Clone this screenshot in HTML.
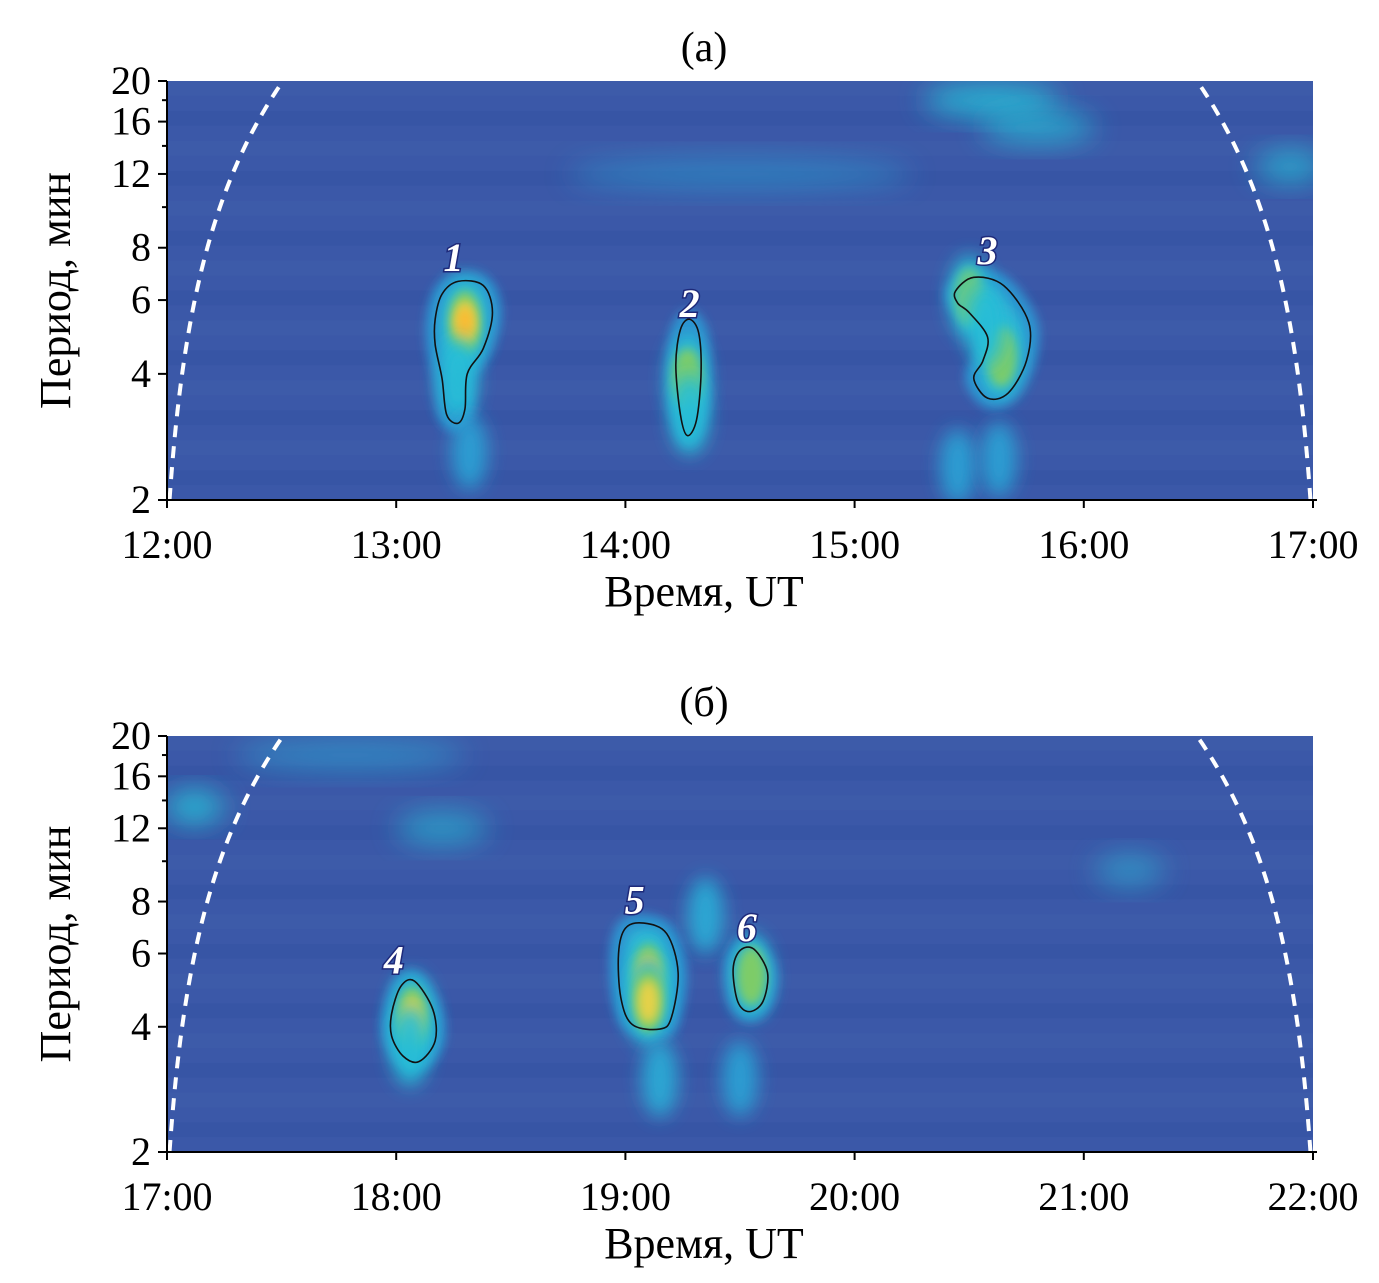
<!DOCTYPE html>
<html><head><meta charset="utf-8"><style>
body{margin:0;background:#fff;}
svg{display:block;font-family:"Liberation Serif",serif;}
</style></head><body>
<svg id="chart" width="1379" height="1283">
<defs>
<filter id="b1" x="-100%" y="-100%" width="300%" height="300%"><feGaussianBlur stdDeviation="9"/></filter>
<filter id="b2" x="-100%" y="-100%" width="300%" height="300%"><feGaussianBlur stdDeviation="5"/></filter>
<filter id="b3" x="-50%" y="-50%" width="200%" height="200%"><feGaussianBlur stdDeviation="14"/></filter>
<clipPath id="clipA"><rect x="167" y="81" width="1146" height="419"/></clipPath>
<clipPath id="clipB"><rect x="167" y="736" width="1146" height="416"/></clipPath>
</defs>
</svg>
<script>
// ---- data ----
const panelTitles = ["(а)", "(б)"];
const startHours = [12, 17];
const xTickLabelsA = ["12:00","13:00","14:00","15:00","16:00","17:00"];
const xTickLabelsB = ["17:00","18:00","19:00","20:00","21:00","22:00"];
const yTicks = [2,4,6,8,12,16,20];
const yMinor = [10,14,18];
// blobs: time (h), period (min), level 0..1
const blobTimesA = [13.3, 13.27, 14.27, 14.28, 15.64, 15.5, 15.57, 13.32, 15.45, 15.63];
const blobPeriodsA = [5.3, 3.9, 3.9, 3.2, 4.4, 6.1, 5.2, 2.6, 2.4, 2.5];
const blobLevelsA = [1.0, 0.6, 0.8, 0.6, 0.82, 0.7, 0.6, 0.4, 0.4, 0.4];
const blobTimesB = [18.07, 18.06, 19.1, 19.1, 19.55, 19.15, 19.35, 19.5];
const blobPeriodsB = [4.2, 3.6, 5.3, 4.6, 5.3, 3.0, 7.4, 3.0];
const blobLevelsB = [0.9, 0.6, 1.0, 0.9, 0.75, 0.45, 0.45, 0.4];
// faint streaks: time center, period, width(h), level
const streakTimesA = [15.6, 15.8, 14.5, 16.9];
const streakPeriodsA = [18, 15.5, 12, 12.5];
const streakWidthsA = [0.6, 0.5, 1.5, 0.3];
const streakLevelsA = [0.5, 0.35, 0.12, 0.35];
const streakTimesB = [17.12, 18.2, 21.2, 17.8];
const streakPeriodsB = [13.5, 12, 9.5, 18];
const streakWidthsB = [0.25, 0.4, 0.3, 1.0];
const streakLevelsB = [0.55, 0.25, 0.2, 0.15];
// contours: [time, period] pairs
const contoursA = [
 [[13.17,5.4],[13.2,6.2],[13.27,6.65],[13.38,6.5],[13.42,5.6],[13.38,4.6],[13.31,4.0],[13.3,3.3],[13.27,3.05],[13.22,3.2],[13.2,3.9],[13.17,4.7]],
 [[14.22,4.2],[14.24,5.1],[14.28,5.4],[14.32,5.0],[14.33,4.0],[14.31,3.1],[14.27,2.85],[14.24,3.2]],
 [[15.44,6.3],[15.52,6.8],[15.65,6.5],[15.76,5.3],[15.75,4.3],[15.67,3.6],[15.58,3.5],[15.52,3.9],[15.56,4.3],[15.58,4.9],[15.5,5.6],[15.45,5.9]]
];
const contoursB = [
 [[17.98,4.3],[18.02,5.0],[18.08,5.15],[18.16,4.4],[18.17,3.7],[18.1,3.3],[18.03,3.4],[17.98,3.8]],
 [[18.97,6.0],[19.0,6.9],[19.08,7.1],[19.18,6.7],[19.23,5.4],[19.2,4.2],[19.15,3.95],[19.03,4.05],[18.98,4.7]],
 [[19.47,5.5],[19.5,6.1],[19.56,6.15],[19.62,5.4],[19.6,4.6],[19.54,4.35],[19.49,4.6]]
];
const labelTextsA = ["1","2","3"];
const labelTimesA = [13.25, 14.28, 15.58];
const labelPeriodsA = [7.6, 5.9, 7.9];
const labelTextsB = ["4","5","6"];
const labelTimesB = [17.99, 19.04, 19.53];
const labelPeriodsB = [5.8, 8.1, 6.95];

// ---- drawing ----
const NS = "http://www.w3.org/2000/svg";
const svg = document.getElementById("chart");
function mk(tag, attrs, parent){const e=document.createElementNS(NS,tag);for(const k in attrs)e.setAttribute(k,attrs[k]);(parent||svg).appendChild(e);return e;}
const X0=167, W=1146;
function smooth(pts){
  const n=pts.length;let d=`M${pts[0][0]},${pts[0][1]}`;
  for(let i=0;i<n;i++){const p0=pts[(i-1+n)%n],p1=pts[i],p2=pts[(i+1)%n],p3=pts[(i+2)%n];
    d+=` C${p1[0]+(p2[0]-p0[0])/6},${p1[1]+(p2[1]-p0[1])/6} ${p2[0]-(p3[0]-p1[0])/6},${p2[1]-(p3[1]-p1[1])/6} ${p2[0]},${p2[1]}`;}
  return d+"Z";
}
function levelColor(l){
  const stops=[[0,[58,88,168]],[0.3,[45,140,210]],[0.55,[40,190,215]],[0.75,[130,205,100]],[0.9,[235,210,70]],[1,[250,185,50]]];
  for(let i=1;i<stops.length;i++){if(l<=stops[i][0]){const a=stops[i-1],b=stops[i],f=(l-a[0])/(b[0]-a[0]);
    return `rgb(${a[1].map((v,j)=>Math.round(v+(b[1][j]-v)*f)).join(",")})`;}}
  return "rgb(250,185,50)";
}
function panel(idx, top, bottom, bt, bp, bl, st, sp, sw, sl, contours, lt, ltm, lp, xlabels, clip){
  const t0=startHours[idx], H=bottom-top;
  const x=t=>X0+(t-t0)/5*W;
  const y=p=>bottom-Math.log10(p/2)*H;
  const g=mk("g",{"clip-path":`url(#${clip})`});
  
  
  mk("rect",{x:X0,y:top,width:W,height:H,fill:"#3b58a8"},g);
  const tex=mk("g",{opacity:0.3},g);
  for(let i=0;i<14;i++){mk("rect",{x:X0,y:top+i*H/14,width:W,height:H/28,fill:i%2?"#3150a0":"#4262ad"},tex);}
  for(let i=0;i<st.length;i++){
    const e=mk("ellipse",{cx:x(st[i]),cy:y(sp[i]),rx:sw[i]/5*W/2,ry:16,fill:levelColor(Math.min(0.55,sl[i]+0.3)),opacity:Math.min(1,sl[i]+0.4),filter:"url(#b3)"},g);
    
    
  }
  contours.forEach(c=>{
    const e=mk("path",{d:smooth(c.map(p=>[x(p[0]),y(p[1])])),fill:"rgb(50,180,215)",stroke:"rgb(45,150,210)","stroke-width":18,opacity:0.95,filter:"url(#b2)"},g);
    
    
  });
  for(let i=0;i<bt.length;i++){
    const l=bl[i], cx=x(bt[i]), cy=y(bp[i]);
    const layers=[[0.55,22,46,"url(#b1)"],[0.75,16,32,"url(#b2)"],[0.9,11,22,"url(#b2)"],[1.0,8,15,"url(#b2)"]];
    layers.forEach(([thr,rx,ry,f])=>{
      if(l+0.05<thr && thr>0.55) return;
      const e=mk("ellipse",{cx:cx,cy:cy,rx:rx*(0.7+0.3*l),ry:ry*(0.7+0.3*l),fill:levelColor(Math.min(l,thr)),opacity:0.95,filter:f},g);
      
      
    });
  }
  contours.forEach(c=>{
    const e=mk("path",{d:smooth(c.map(p=>[x(p[0]),y(p[1])])),fill:"none",stroke:"#111","stroke-width":1.6},g);
    
    
  });
  const c=0.0275; let dl="",dr="";
  for(let p=2;p<=20.01;p+=0.25){dl+=(dl?"L":"M")+x(t0+c*(p-1.6))+","+y(p);dr+=(dr?"L":"M")+x(t0+5-c*(p-1.6))+","+y(p);}
  const cl=mk("path",{d:dl,fill:"none",stroke:"#fff","stroke-width":4,"stroke-dasharray":"12 9"},g);
  
  
  const cr=mk("path",{d:dr,fill:"none",stroke:"#fff","stroke-width":4,"stroke-dasharray":"12 9"},g);
  
  
  for(let i=0;i<lt.length;i++){
    const t=mk("text",{x:x(ltm[i]),y:y(lp[i])+14,"text-anchor":"middle","font-size":40,"font-weight":"bold","font-style":"italic",fill:"#fff",stroke:"#1e2a7a","stroke-width":3,"paint-order":"stroke"});
    t.textContent=lt[i];
    
    
  }
  const ax=mk("g",{stroke:"#000","stroke-width":2});
  
  
  mk("line",{x1:X0,y1:top,x2:X0,y2:bottom+8},ax);
  mk("line",{x1:X0-1,y1:bottom,x2:X0+W+4,y2:bottom},ax);
  yTicks.forEach(p=>{
    mk("line",{x1:X0-9,y1:y(p),x2:X0,y2:y(p)},ax);
    const t=mk("text",{x:X0-16,y:y(p)+13,"text-anchor":"end","font-size":40});
    t.textContent=p;
    
    
  });
  yMinor.forEach(p=>mk("line",{x1:X0-5,y1:y(p),x2:X0,y2:y(p)},ax));
  xlabels.forEach((s,i)=>{
    const xx=X0+i*W/5;
    mk("line",{x1:xx,y1:bottom,x2:xx,y2:bottom+8},ax);
    const t=mk("text",{x:xx,y:bottom+58,"text-anchor":"middle","font-size":40});
    t.textContent=s;
    
    
  });
  const xt=mk("text",{x:704,y:bottom+106,"text-anchor":"middle","font-size":44});
  xt.textContent="Время, UT";
  
  
  const yt=mk("text",{x:0,y:0,"text-anchor":"middle","font-size":44,transform:`translate(70,${(top+bottom)/2}) rotate(-90)`});
  yt.textContent="Период, мин";
  
  
  const tt=mk("text",{x:704,y:top-20,"text-anchor":"middle","font-size":42});
  tt.textContent=panelTitles[idx];
  
  
}
panel(0,81,500,blobTimesA,blobPeriodsA,blobLevelsA,streakTimesA,streakPeriodsA,streakWidthsA,streakLevelsA,contoursA,labelTextsA,labelTimesA,labelPeriodsA,xTickLabelsA,"clipA");
panel(1,736,1152,blobTimesB,blobPeriodsB,blobLevelsB,streakTimesB,streakPeriodsB,streakWidthsB,streakLevelsB,contoursB,labelTextsB,labelTimesB,labelPeriodsB,xTickLabelsB,"clipB");
</script>
</body></html>
